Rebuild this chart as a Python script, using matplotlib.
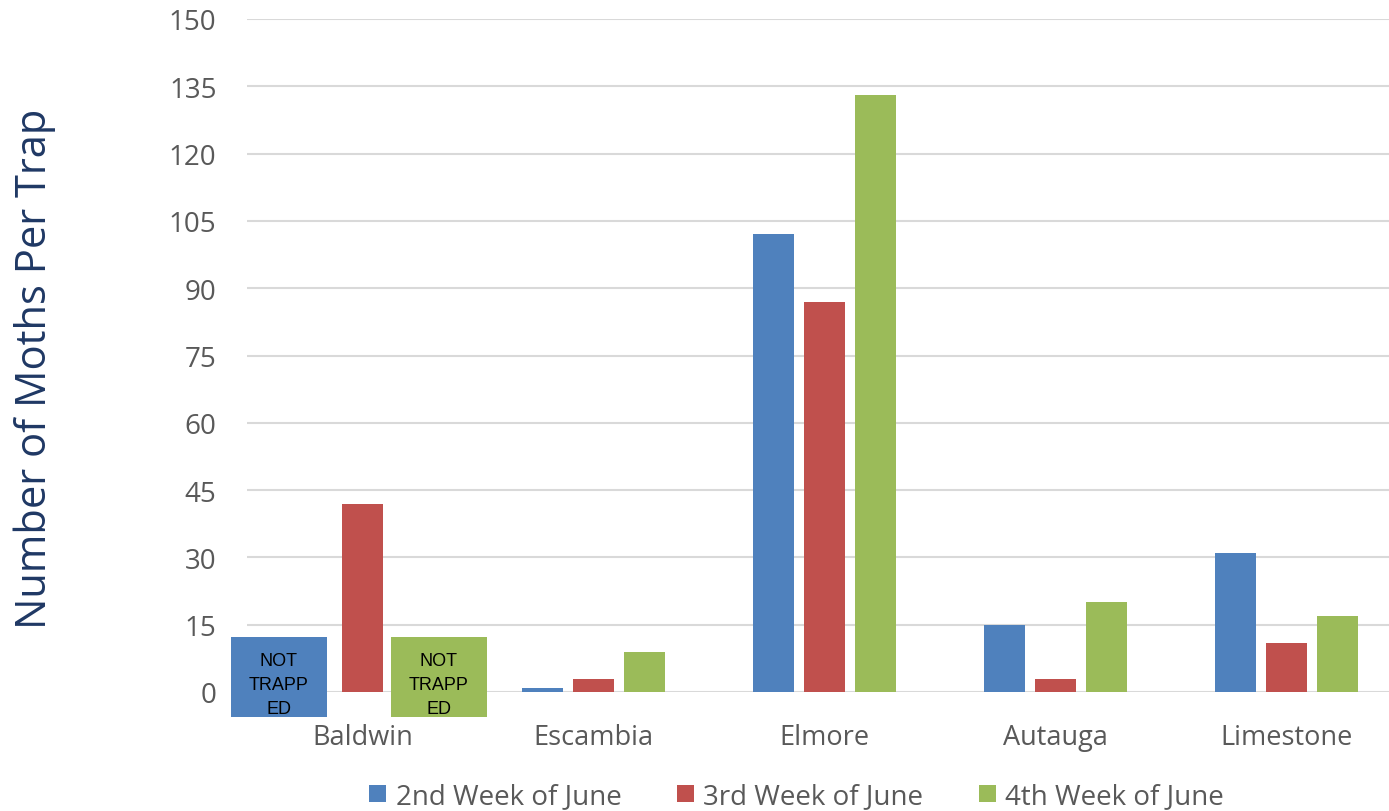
import numpy as np
import matplotlib.pyplot as plt
from matplotlib.patches import Rectangle

plt.rcParams['font.family'] = ['Open Sans', 'DejaVu Sans']

counties = ['Baldwin', 'Escambia', 'Elmore', 'Autauga', 'Limestone']
weeks = ['2nd Week of June', '3rd Week of June', '4th Week of June']
week2 = [np.nan, 1, 102, 15, 31]   # Baldwin not trapped
week3 = [42, 3, 87, 3, 11]
week4 = [np.nan, 9, 133, 20, 17]   # Baldwin not trapped
colors = ['#4F81BD', '#C0504D', '#9BBB59']
yticks = list(range(0, 151, 15))

fig = plt.figure(figsize=(13.89, 8.12), dpi=100)
ax = fig.add_axes([247/1389, 119/812, 1155/1389, 673/812])

x = np.arange(len(counties))
w = 0.177
off = 0.221
for i, (vals, c, lab) in enumerate(zip([week2, week3, week4], colors, weeks)):
    ax.bar(x + (i - 1)*off, vals, width=w, color=c, label=lab, zorder=3)

# "not trapped" boxes for Baldwin
for x0, x1, c in [(-0.569, -0.154, colors[0]), (0.123, 0.539, colors[2])]:
    ax.add_patch(Rectangle((x0, -5.6), x1 - x0, 17.9, facecolor=c,
                           edgecolor='none', clip_on=False, zorder=4))
    ax.text((x0 + x1)/2, 1.7, 'NOT\nTRAPP\nED', ha='center', va='center',
            fontsize=13, color='black', linespacing=1.55, zorder=5,
            family=['Liberation Sans Narrow', 'Liberation Sans', 'DejaVu Sans'])

ax.set_xlim(-0.5, 4.5)
ax.set_ylim(0, 150)
ax.set_yticks(yticks)
ax.set_xticks(x)
ax.set_xticklabels(counties)
ax.grid(axis='y', color='#D9D9D9', linewidth=1.5, zorder=0)
ax.tick_params(axis='y', length=0, pad=22, labelsize=20, labelcolor='#595959')
ax.tick_params(axis='x', length=0, pad=22, labelsize=19.5, labelcolor='#595959')
for s in ax.spines.values():
    s.set_visible(False)

fig.text(35/1389, 1 - 369/812, 'Number of Moths Per Trap', rotation=90,
         ha='center', va='center', fontsize=30, color='#1F3864')

leg = ax.legend(loc='center', bbox_to_anchor=(0.476, -0.155), ncol=3, frameon=False,
                fontsize=20, handlelength=0.6, handleheight=0.6,
                handletextpad=0.35, columnspacing=2.0)
for t in leg.get_texts():
    t.set_color('#595959')

fig.savefig('out.png', dpi=100)
